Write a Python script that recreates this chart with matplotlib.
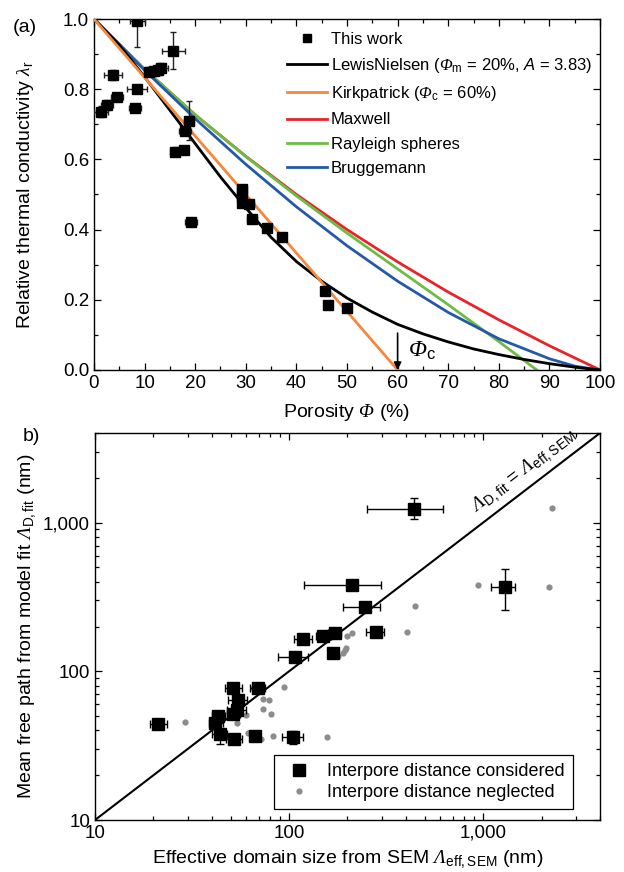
import math
import numpy as np
import matplotlib
matplotlib.use("Agg")
import matplotlib.pyplot as plt
from matplotlib.lines import Line2D
from matplotlib.ticker import MultipleLocator, FuncFormatter, LogLocator, NullFormatter

plt.rcParams['font.family'] = ['Liberation Sans', 'DejaVu Sans']
plt.rcParams['mathtext.fontset'] = 'custom'
plt.rcParams['mathtext.rm'] = 'Liberation Sans'
plt.rcParams['mathtext.it'] = 'Liberation Sans:italic'
plt.rcParams['mathtext.sf'] = 'Liberation Serif:italic'

# --- panel (a): measured points ---
phi = [8.6, 15.7, 3.7, 8.5, 4.5, 2.6, 1.4, 8.1, 10.9, 11.9, 12.6, 13.2, 18.8, 18.0,
       16.1, 17.8, 19.1, 29.2, 29.2, 29.3, 30.7, 31.2, 34.1, 37.1, 45.7, 46.3, 49.9]
lam = [0.995, 0.91, 0.84, 0.80, 0.777, 0.755, 0.736, 0.747, 0.85, 0.852, 0.855, 0.86,
       0.71, 0.682, 0.622, 0.627, 0.423, 0.515, 0.494, 0.475, 0.473, 0.429, 0.404,
       0.378, 0.226, 0.185, 0.178]
phi_err = [1.5, 2.2, 1.8, 1.9, 1.2, 1.2, 1.3, 1.2, 1.0, 1.0, 1.2, 1.5, 1.0, 1.2,
           1.0, 0.8, 1.2, 1.0, 0.8, 0.8, 1.0, 1.0, 0.5, 0.5, 0.8, 0.5, 0.5]
lam_err = [0.075, 0.052, 0.015, 0.01, 0.012, 0.015, 0.015, 0.012, 0.012, 0.012, 0.015,
           0.015, 0.055, 0.01, 0.012, 0.01, 0.008, 0.012, 0.01, 0.008, 0.008, 0.008,
           0.005, 0.005, 0.008, 0.005, 0.005]

# --- panel (a): model curves ---
ln_phi = [0, 5, 10, 15, 20, 25, 30, 35, 40, 45, 50, 55, 60, 65, 70, 75, 80, 85, 90, 95, 100]
ln_lam = [1.0, 0.926, 0.835, 0.74, 0.645, 0.55, 0.462, 0.378, 0.309, 0.253, 0.205,
          0.165, 0.13, 0.103, 0.08, 0.06, 0.044, 0.03, 0.018, 0.008, 0.0]
kp_phi = [0, 60]
kp_lam = [1.0, 0.0]
mx_phi = [0, 10, 20, 30, 40, 50, 60, 70, 80, 90, 100]
mx_lam = [1.0, 0.857, 0.727, 0.609, 0.5, 0.4, 0.308, 0.222, 0.143, 0.069, 0.0]
ry_phi = [0, 10, 20, 30, 40, 50, 60, 70, 80, 85, 87.5]
ry_lam = [1.0, 0.857, 0.727, 0.608, 0.496, 0.39, 0.288, 0.186, 0.081, 0.027, 0.0]
bg_phi = [0, 10, 20, 30, 40, 50, 60, 70, 80, 90, 95, 100]
bg_lam = [1.0, 0.854, 0.716, 0.586, 0.465, 0.354, 0.253, 0.164, 0.089, 0.032, 0.011, 0.0]

# --- panel (b): interpore distance considered (squares) ---
sem = [118, 172, 150, 280, 107, 169, 51.5, 69.3, 54.7, 53.7, 43.2, 41.5, 21.2, 44,
       52, 66.7, 105, 51.5, 440, 210, 246, 1290]
fit = [166, 180, 173, 184, 125, 132, 76.7, 77.8, 64, 54.8, 50, 44.7, 44.2, 37.8,
       34.8, 36.7, 36, 52, 1230, 379, 271, 366]
sem_lo = [106, 158, 137, 250, 88, 160, 47, 63, 48.5, 48, 40, 38.8, 19.3, 40,
          47.6, 63, 91.5, 48, 253, 120, 190, 1100]
sem_hi = [131, 186, 164, 307, 125, 178, 57, 75, 60.4, 60, 47, 45.8, 23.4, 48,
          57.5, 71, 118, 56, 621, 299, 294, 1455]
fit_lo = [160, 174, 167, 178, 120, 127, 73, 74, 61, 52, 47.5, 42.5, 42, 32.4,
          33, 35, 32.2, 49.5, 1050, 366, 258, 258]
fit_hi = [172, 186, 179, 190, 130, 137, 80, 81.5, 67, 57.5, 52.5, 47, 46.5, 40.8,
          36.6, 38.4, 39.8, 54.5, 1452, 392, 285, 484]

# --- panel (b): interpore distance neglected (grey dots) ---
sem_n = [2265, 942, 2180, 444, 403, 211, 198, 196, 147, 179, 194, 190, 65.3, 94.4,
         73.6, 79, 73.6, 80.5, 60, 53.7, 29, 61.6, 64.9, 82.2, 72.1, 156]
fit_n = [1245, 383, 370, 274, 184, 180, 174, 143, 168, 126, 139, 132, 77.8, 78.5,
         65, 64, 56, 51.5, 50.8, 44.7, 45.4, 38.3, 37.8, 36.8, 35.2, 36.3]

GREY = '#8c8c8c'
TICK_FS = 13.5
LABEL_FS = 14

fig = plt.figure(figsize=(6.24, 8.72), dpi=100)
ax1 = fig.add_axes([0.1506, 0.5757, 0.811, 0.4025])
ax2 = fig.add_axes([0.1522, 0.0596, 0.8093, 0.4438])

for ax in (ax1, ax2):
    for s in ax.spines.values():
        s.set_linewidth(1.0)
    ax.tick_params(which='both', direction='in', top=True, right=True, labelsize=TICK_FS,
                   width=0.9)
    ax.tick_params(which='major', length=5)
    ax.tick_params(which='minor', length=3)

# ---------------- (a) ----------------
ax1.plot(ln_phi, ln_lam, color='black', lw=2, zorder=3)
ax1.plot(kp_phi, kp_lam, color='#f5883a', lw=2, zorder=3)
ax1.plot(mx_phi, mx_lam, color='#e8232a', lw=2, zorder=2)
ax1.plot(ry_phi, ry_lam, color='#6dbd45', lw=2, zorder=2)
ax1.plot(bg_phi, bg_lam, color='#2459a9', lw=2, zorder=2)
ax1.errorbar(phi, lam, xerr=phi_err, yerr=lam_err, fmt='s', ms=6.5, color='black',
             ecolor='#222222', elinewidth=1, capsize=2.5, capthick=1, zorder=4)

ax1.set_xlim(0, 100)
ax1.set_ylim(0, 1.0)
ax1.xaxis.set_major_locator(MultipleLocator(10))
ax1.xaxis.set_minor_locator(MultipleLocator(5))
ax1.yaxis.set_major_locator(MultipleLocator(0.2))
ax1.yaxis.set_minor_locator(MultipleLocator(0.1))
ax1.yaxis.set_major_formatter(FuncFormatter(lambda v, p: f'{v:.1f}'))
ax1.set_xlabel(r'Porosity $\mathsf{\Phi}$ (%)', fontsize=LABEL_FS)
ax1.set_ylabel(r'Relative thermal conductivity $\mathsf{\lambda}_\mathrm{r}$', fontsize=LABEL_FS)
ax1.xaxis.set_label_coords(0.5, -0.09)
ax1.yaxis.set_label_coords(-0.115, 0.5)

legend_handles = [
    Line2D([], [], ls='none', marker='s', ms=6, color='black'),
    Line2D([], [], color='black', lw=2),
    Line2D([], [], color='#f5883a', lw=2),
    Line2D([], [], color='#e8232a', lw=2),
    Line2D([], [], color='#6dbd45', lw=2),
    Line2D([], [], color='#2459a9', lw=2),
]
legend_labels = [
    'This work',
    r'LewisNielsen ($\mathsf{\Phi}_\mathrm{m}$ = 20%, $\mathit{A}$ = 3.83)',
    r'Kirkpatrick ($\mathsf{\Phi}_\mathrm{c}$ = 60%)',
    'Maxwell',
    'Rayleigh spheres',
    'Bruggemann',
]
ax1.legend(legend_handles, legend_labels, loc='upper left', bbox_to_anchor=(0.381, 0.963),
           frameon=False, fontsize=12, handlelength=2.4, handletextpad=0.25,
           labelspacing=0.55, borderpad=0, borderaxespad=0)

ax1.annotate('', xy=(60, 0.0), xytext=(60, 0.105),
             arrowprops=dict(arrowstyle='-|>', color='black', lw=1.2, mutation_scale=11,
                             shrinkA=0, shrinkB=0))
ax1.text(62, 0.022, r'$\mathsf{\Phi}_\mathrm{c}$', fontsize=17, ha='left', va='bottom')

fig.text(0.021, 0.968, '(a)', fontsize=14, ha='left', va='center')

# ---------------- (b) ----------------
lim = [10, 4000]
ax2.plot(lim, lim, color='black', lw=1.5, zorder=2)
ax2.plot(sem_n, fit_n, 'o', color=GREY, ms=4.5, mec='none', zorder=3)
sem_a = np.array(sem)
fit_a = np.array(fit)
ax2.errorbar(sem_a, fit_a,
             xerr=[sem_a - np.array(sem_lo), np.array(sem_hi) - sem_a],
             yerr=[fit_a - np.array(fit_lo), np.array(fit_hi) - fit_a],
             fmt='s', ms=8, color='black', ecolor='black', elinewidth=1,
             capsize=3, capthick=1, zorder=4)

ax2.set_xscale('log')
ax2.set_yscale('log')
ax2.set_xlim(lim)
ax2.set_ylim(lim)
fmt = FuncFormatter(lambda v, p: f'{v:,.0f}')
for axis in (ax2.xaxis, ax2.yaxis):
    axis.set_major_locator(LogLocator(base=10, numticks=10))
    axis.set_minor_locator(LogLocator(base=10, subs=np.arange(2, 10), numticks=20))
    axis.set_major_formatter(fmt)
    axis.set_minor_formatter(NullFormatter())

ax2.set_xlabel(r'Effective domain size from SEM $\mathsf{\Lambda}_\mathrm{eff,SEM}$ (nm)',
               fontsize=LABEL_FS)
ax2.set_ylabel(r'Mean free path from model fit $\mathsf{\Lambda}_\mathrm{D,fit}$ (nm)',
               fontsize=LABEL_FS)
ax2.xaxis.set_label_coords(0.5, -0.072)
ax2.yaxis.set_label_coords(-0.112, 0.5)

ax2.legend([Line2D([], [], ls='none', marker='s', ms=9, color='black'),
            Line2D([], [], ls='none', marker='o', ms=4.5, color=GREY, mec='none')],
           ['Interpore distance considered', 'Interpore distance neglected'],
           loc='lower right', bbox_to_anchor=(0.947, 0.028), borderaxespad=0, fontsize=13,
           frameon=True, fancybox=False, edgecolor='black', framealpha=1,
           handletextpad=0.6, labelspacing=0.2, borderpad=0.45, handlelength=1.9
           ).get_frame().set_linewidth(0.9)

# diagonal label, rotated along the line y = x
pos = ax2.get_position()
angle = math.degrees(math.atan((pos.height * 8.72) / (pos.width * 6.24)))
ax2.text(1750, 1950, r'$\mathsf{\Lambda}_\mathrm{D,fit}$ = $\mathsf{\Lambda}_\mathrm{eff,SEM}$',
         fontsize=14, rotation=angle, rotation_mode='anchor', ha='center', va='bottom')

fig.text(0.037, 0.5, 'b)', fontsize=14, ha='left', va='center')

fig.savefig('out.png', dpi=100)
